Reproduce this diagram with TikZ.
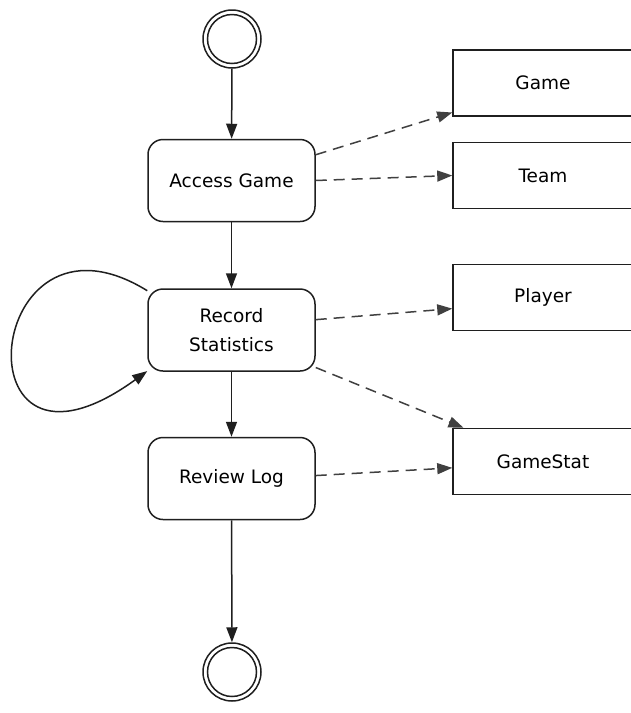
\documentclass[tikz,border=0pt]{standalone}
\usepackage{fontspec}
\setmainfont{DejaVu Sans}
\usetikzlibrary{arrows.meta}

\tikzset{
  ink/.style={draw=black!88, line width=1.5pt},
  activity/.style={ink, rounded corners=15pt, minimum width=167pt, minimum height=82pt,
    inner sep=0pt, align=center, font=\fontsize{18.5}{29}\selectfont},
  classbox/.style={ink, minimum width=180pt, minimum height=66pt, inner sep=0pt,
    font=\fontsize{18.5}{22}\selectfont},
  terminal/.style={ink, circle, minimum size=58pt, inner sep=0pt},
  flow/.style={ink, -{Triangle[length=15pt,width=11pt]}},
  uses/.style={draw=black!75, line width=1.5pt, dash pattern=on 11pt off 7pt,
    -{Triangle[length=15pt,width=11pt]}}
}

\begin{document}
\begin{tikzpicture}[x=1pt, y=-1pt]
  \useasboundingbox[fill=white] (0,0) rectangle (630,713);

  % initial and final states
  \node[terminal] (start) at (232,39) {};
  \draw[ink] (start.center) circle (24.5pt);
  \node[terminal] (finish) at (232,672) {};
  \draw[ink] (finish.center) circle (24.5pt);

  % activities
  \node[activity] (ag) at (231.5,180.5) {Access Game};
  \node[activity] (rs) at (231.5,330) {Record\\Statistics};
  \node[activity] (rl) at (231.5,478.5) {Review Log};

  % classes
  \node[classbox] (game)   at (543,83)    {Game};
  \node[classbox] (team)   at (543,175.5) {Team};
  \node[classbox] (player) at (543,297.5) {Player};
  \node[classbox] (gstat)  at (543,461.5) {GameStat};

  % control flow
  \draw[flow] (start) -- (ag);
  \draw[flow] (ag) -- (rs);
  \draw[flow] (rs) -- (rl);
  \draw[flow] (rl) -- (finish);

  % self loop on Record Statistics
  \draw[flow] (rs.155) .. controls (-17,189) and (-46,511) .. (rs.206);

  % data usage
  \draw[uses] (ag.17) -- (game.198);
  \draw[uses] (ag.east) -- (team.west);
  \draw[uses] (rs.7) -- (player.187);
  \draw[uses] (rs.-24) -- (gstat.157);
  \draw[uses] (rl.2) -- (gstat.184);
\end{tikzpicture}
\end{document}
